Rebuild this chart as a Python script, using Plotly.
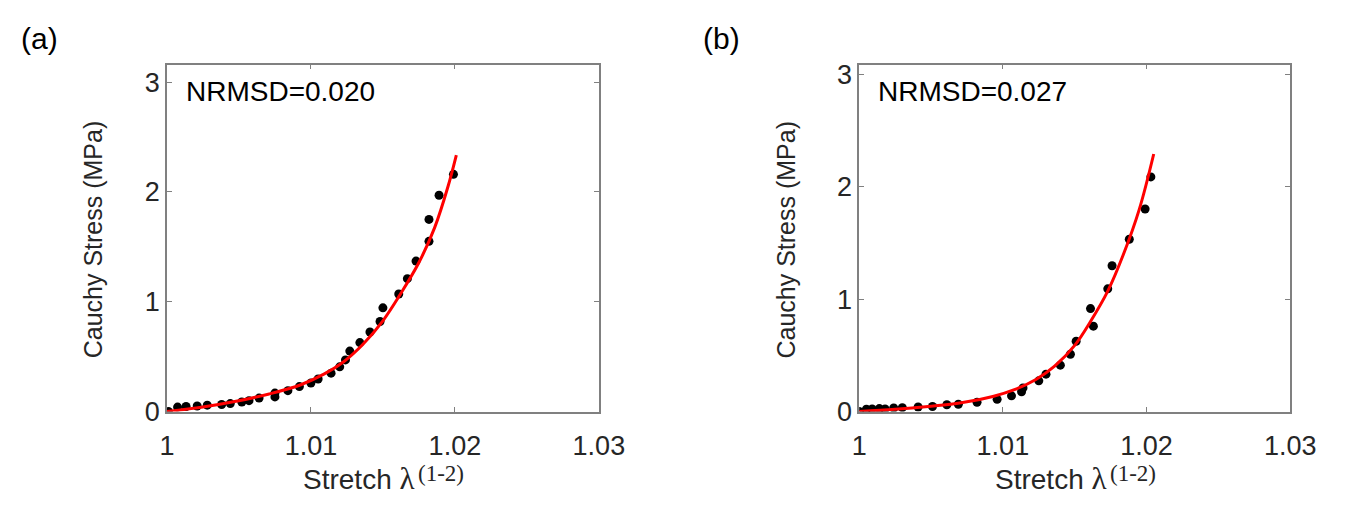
import plotly.graph_objects as go

# ---- data ----
# panel (a) experimental points
a_stretch = [1.0001, 1.00074, 1.00133, 1.0021, 1.0028, 1.0038, 1.0044, 1.0052, 1.0057, 1.0064,
             1.0075, 1.0075, 1.0084, 1.0092, 1.0100, 1.0105, 1.0114, 1.0120, 1.0124, 1.0127,
             1.0134, 1.0141, 1.0148, 1.0150, 1.0161, 1.0167, 1.0173, 1.0182, 1.0182, 1.0189, 1.0199]
a_stress = [0.0, 0.04, 0.046, 0.05, 0.058, 0.064, 0.072, 0.087, 0.099, 0.122,
            0.133, 0.168, 0.19, 0.227, 0.26, 0.296, 0.349, 0.407, 0.47, 0.55,
            0.628, 0.724, 0.82, 0.944, 1.07, 1.21, 1.37, 1.55, 1.75, 1.97, 2.16]
# panel (a) fitted model curve
a_fit_x = [1.0000, 1.0025, 1.0048, 1.0071, 1.0093, 1.0109, 1.0123, 1.0136, 1.0150, 1.0163,
           1.0175, 1.0186, 1.0195, 1.0201]
a_fit_y = [0.0, 0.041, 0.093, 0.16, 0.244, 0.34, 0.456, 0.61, 0.826, 1.087,
           1.357, 1.677, 2.04, 2.336]

# panel (b) experimental points
b_stretch = [1.0000, 1.0005, 1.0009, 1.0014, 1.0018, 1.0024, 1.0030, 1.0041, 1.0051, 1.0061,
             1.0069, 1.0082, 1.0096, 1.0106, 1.0113, 1.0114, 1.0125, 1.0130, 1.0140, 1.0147,
             1.0151, 1.0163, 1.0161, 1.0173, 1.0176, 1.0188, 1.0199, 1.0203]
b_stress = [0.0, 0.02, 0.023, 0.026, 0.023, 0.031, 0.034, 0.04, 0.045, 0.06,
            0.065, 0.082, 0.108, 0.139, 0.176, 0.21, 0.273, 0.332, 0.412, 0.509,
            0.625, 0.759, 0.915, 1.091, 1.296, 1.532, 1.801, 2.086]
# panel (b) fitted model curve
b_fit_x = [1.0000, 1.0025, 1.0048, 1.0071, 1.0093, 1.0109, 1.0123, 1.0136, 1.0150, 1.0161,
           1.0173, 1.0184, 1.0195, 1.0205]
b_fit_y = [0.0, 0.02, 0.045, 0.077, 0.134, 0.199, 0.284, 0.403, 0.588, 0.80,
           1.07, 1.40, 1.80, 2.29]

x_ticks = [1, 1.01, 1.02, 1.03]
x_ticktext = ['1', '1.01', '1.02', '1.03']
y_ticks = [0, 1, 2, 3]
nrmsd_labels = ['NRMSD=0.020', 'NRMSD=0.027']
panel_labels = ['(a)', '(b)']

FONT = 'Liberation Sans, Arial, sans-serif'
SERIF = 'Liberation Serif, Times New Roman, serif'
W, H = 1363, 513

fig = go.Figure()

fig.add_trace(go.Scatter(x=a_stretch, y=a_stress, mode='markers', xaxis='x', yaxis='y',
                         marker=dict(color='black', size=9), showlegend=False))
fig.add_trace(go.Scatter(x=a_fit_x, y=a_fit_y, mode='lines', xaxis='x', yaxis='y',
                         line=dict(color='#ff0000', width=3, shape='spline'), showlegend=False))
fig.add_trace(go.Scatter(x=b_stretch, y=b_stress, mode='markers', xaxis='x2', yaxis='y2',
                         marker=dict(color='black', size=9), showlegend=False))
fig.add_trace(go.Scatter(x=b_fit_x, y=b_fit_y, mode='lines', xaxis='x2', yaxis='y2',
                         line=dict(color='#ff0000', width=3, shape='spline'), showlegend=False))

axis_common = dict(showgrid=False, zeroline=False, showline=True, linecolor='#808080', linewidth=1.5,
                   mirror='ticks', ticks='inside', ticklen=5, tickcolor='#808080',
                   tickfont=dict(family=FONT, size=27, color='#262626'))

# pixel boxes of the two plot areas (left, right, top, bottom)
ax_a = (163, 606, 62, 423)
ax_b = (873, 1315, 62, 423)

def xdom(b):
    return [b[0] / W, b[1] / W]

def ydom(b):
    return [1 - b[3] / H, 1 - b[2] / H]

fig.update_layout(
    width=W, height=H,
    margin=dict(l=0, r=0, t=0, b=0),
    paper_bgcolor='white', plot_bgcolor='white',
    xaxis=dict(domain=xdom(ax_a), range=[1, 1.03], tickvals=x_ticks, ticktext=x_ticktext,
               anchor='y', ticklabelstandoff=9, **axis_common),
    yaxis=dict(domain=ydom(ax_a), range=[0, 3.16], tickvals=y_ticks, anchor='x', **axis_common),
    xaxis2=dict(domain=xdom(ax_b), range=[1, 1.03], tickvals=x_ticks, ticktext=x_ticktext,
                anchor='y2', ticklabelstandoff=9, **axis_common),
    yaxis2=dict(domain=ydom(ax_b), range=[0, 3.085], tickvals=y_ticks, anchor='x2', **axis_common),
)

annotations = []
for i, box in enumerate([ax_a, ax_b]):
    x0, x1, y0, y1 = box
    xc = (x0 + x1) / 2
    # NRMSD label inside the box
    annotations.append(dict(text=nrmsd_labels[i], x=(x0 + 17) / W, y=1 - 90 / H, xref='paper', yref='paper',
                            xanchor='left', yanchor='middle', showarrow=False,
                            font=dict(family=FONT, size=28, color='black')))
    # x title: "Stretch λ" plus superscript
    annotations.append(dict(text="Stretch <span style='font-family:%s;font-size:31px'>λ</span>" % SERIF,
                            x=(xc + 35) / W, y=1 - 493 / H, xref='paper', yref='paper',
                            xanchor='right', yanchor='middle', showarrow=False,
                            font=dict(family=FONT, size=28, color='#262626')))
    annotations.append(dict(text='(1-2)', x=(xc + 34) / W, y=1 - 488 / H, xref='paper', yref='paper',
                            xanchor='left', yanchor='middle', showarrow=False,
                            font=dict(family=SERIF, size=23, color='#262626')))
    # y title
    annotations.append(dict(text='Cauchy Stress (MPa)', x=(x0 - 75) / W, y=1 - 244 / H, xref='paper',
                            yref='paper', xanchor='center', yanchor='middle', showarrow=False, textangle=-90,
                            font=dict(family=FONT, size=25, color='#262626')))

annotations.append(dict(text=panel_labels[0], x=11 / W, y=1 - 35 / H, xref='paper', yref='paper',
                        xanchor='left', yanchor='middle', showarrow=False,
                        font=dict(family=FONT, size=30, color='black')))
annotations.append(dict(text=panel_labels[1], x=711 / W, y=1 - 35 / H, xref='paper', yref='paper',
                        xanchor='left', yanchor='middle', showarrow=False,
                        font=dict(family=FONT, size=30, color='black')))

fig.update_layout(annotations=annotations)

fig.write_html('out.html', config={'displayModeBar': False},
               post_script="document.body.style.margin='0';")
